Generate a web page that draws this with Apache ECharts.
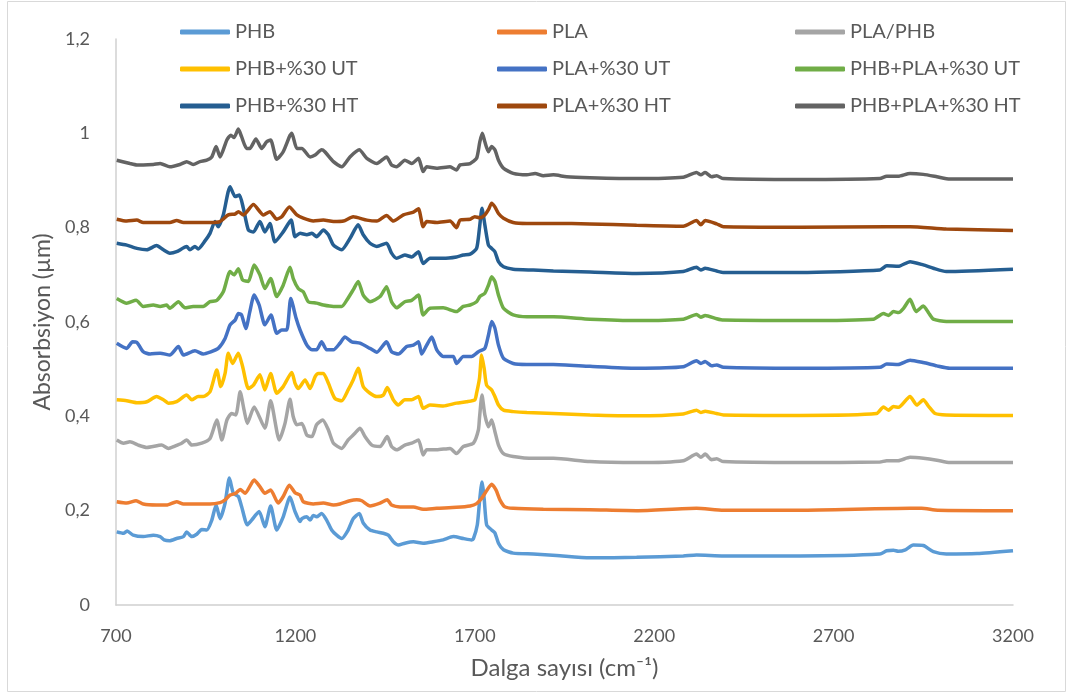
<!DOCTYPE html>
<html>
<head>
<meta charset="utf-8">
<script src="https://cdn.jsdelivr.net/npm/echarts@6/dist/echarts.min.js"></script>
<style>
html,body{margin:0;padding:0;background:#fff;}
#chart{width:1070px;height:695px;}
</style>
</head>
<body>
<div id="chart"></div>
<script>
// Series names
const seriesNames = ['PHB','PLA','PLA/PHB','PHB+%30 UT','PLA+%30 UT','PHB+PLA+%30 UT','PHB+%30 HT','PLA+%30 HT','PHB+PLA+%30 HT'];

// Wavenumber (cm-1), absorbance pairs
const phb = [[702,0.155],[721,0.152],[731,0.157],[748,0.148],[776,0.145],[804,0.148],[823,0.145],[834,0.138],[849,0.136],[869,0.141],[888,0.145],[897,0.155],[911,0.145],[925,0.150],[939,0.160],[953,0.159],[967,0.180],[979,0.212],[990,0.183],[1004,0.216],[1016,0.269],[1027,0.237],[1041,0.230],[1050,0.209],[1066,0.170],[1078,0.180],[1099,0.198],[1115,0.166],[1131,0.210],[1148,0.159],[1166,0.187],[1185,0.229],[1199,0.198],[1213,0.177],[1218,0.183],[1232,0.187],[1241,0.180],[1250,0.190],[1259,0.187],[1273,0.194],[1287,0.180],[1301,0.159],[1315,0.148],[1329,0.141],[1347,0.159],[1361,0.183],[1378,0.194],[1389,0.174],[1408,0.159],[1427,0.155],[1445,0.152],[1459,0.148],[1473,0.134],[1487,0.127],[1505,0.131],[1529,0.134],[1556,0.131],[1584,0.134],[1612,0.138],[1640,0.145],[1668,0.141],[1691,0.138],[1696,0.140],[1707,0.170],[1714,0.226],[1720,0.261],[1726,0.226],[1733,0.170],[1747,0.159],[1756,0.153],[1766,0.131],[1780,0.117],[1807,0.110],[1863,0.108],[1928,0.105],[2021,0.100],[2151,0.101],[2281,0.104],[2318,0.106],[2393,0.104],[2606,0.104],[2829,0.108],[2848,0.115],[2867,0.116],[2880,0.114],[2900,0.117],[2922,0.127],[2950,0.126],[2978,0.113],[3014,0.108],[3100,0.109],[3200,0.115]];

const pla = [[702,0.219],[730,0.216],[756,0.221],[776,0.214],[813,0.212],[841,0.212],[869,0.219],[888,0.214],[934,0.214],[962,0.214],[990,0.217],[1004,0.223],[1018,0.233],[1034,0.237],[1046,0.245],[1060,0.237],[1085,0.265],[1101,0.251],[1115,0.237],[1131,0.244],[1152,0.216],[1166,0.230],[1183,0.254],[1199,0.238],[1213,0.233],[1222,0.219],[1250,0.214],[1278,0.216],[1306,0.212],[1324,0.214],[1352,0.221],[1371,0.223],[1385,0.221],[1408,0.210],[1436,0.216],[1456,0.223],[1468,0.212],[1492,0.208],[1529,0.208],[1556,0.203],[1594,0.205],[1649,0.207],[1687,0.210],[1705,0.215],[1719,0.226],[1731,0.240],[1747,0.256],[1759,0.244],[1770,0.223],[1784,0.208],[1807,0.205],[1891,0.203],[2021,0.202],[2151,0.200],[2318,0.205],[2393,0.201],[2606,0.201],[2913,0.205],[2945,0.205],[2990,0.201],[3200,0.200]];

const plaPhb = [[702,0.350],[721,0.343],[739,0.346],[762,0.339],[786,0.334],[827,0.339],[846,0.332],[864,0.337],[883,0.343],[897,0.350],[911,0.339],[939,0.343],[962,0.353],[981,0.392],[995,0.350],[1009,0.392],[1022,0.406],[1034,0.403],[1046,0.452],[1057,0.413],[1066,0.385],[1085,0.420],[1115,0.375],[1131,0.433],[1155,0.350],[1171,0.385],[1185,0.436],[1194,0.399],[1204,0.382],[1218,0.385],[1232,0.360],[1246,0.357],[1259,0.382],[1276,0.392],[1292,0.371],[1306,0.343],[1329,0.332],[1347,0.350],[1366,0.364],[1380,0.375],[1394,0.357],[1413,0.339],[1436,0.336],[1456,0.357],[1468,0.336],[1482,0.329],[1505,0.339],[1524,0.343],[1543,0.350],[1556,0.318],[1566,0.329],[1594,0.329],[1631,0.332],[1649,0.321],[1668,0.336],[1696,0.343],[1710,0.371],[1713,0.396],[1720,0.445],[1728,0.403],[1738,0.378],[1747,0.392],[1756,0.368],[1766,0.339],[1780,0.321],[1807,0.315],[1863,0.311],[1919,0.311],[2021,0.304],[2151,0.302],[2281,0.306],[2318,0.320],[2330,0.313],[2342,0.320],[2360,0.308],[2374,0.310],[2393,0.304],[2606,0.302],[2829,0.303],[2848,0.306],[2880,0.306],[2913,0.313],[2950,0.311],[2988,0.307],[3024,0.302],[3200,0.302]];

const phbUt = [[702,0.435],[730,0.433],[758,0.429],[786,0.431],[813,0.442],[832,0.435],[846,0.428],[869,0.431],[897,0.445],[911,0.435],[929,0.442],[943,0.442],[962,0.452],[981,0.498],[992,0.463],[1004,0.491],[1013,0.534],[1025,0.512],[1041,0.534],[1053,0.505],[1069,0.459],[1083,0.466],[1101,0.488],[1115,0.456],[1131,0.491],[1148,0.449],[1166,0.463],[1190,0.493],[1199,0.470],[1208,0.459],[1227,0.477],[1241,0.459],[1255,0.484],[1264,0.491],[1278,0.491],[1292,0.470],[1310,0.438],[1329,0.433],[1347,0.456],[1361,0.477],[1375,0.502],[1389,0.463],[1408,0.449],[1427,0.442],[1445,0.445],[1456,0.461],[1473,0.435],[1487,0.424],[1505,0.435],[1524,0.435],[1543,0.442],[1556,0.417],[1575,0.424],[1612,0.422],[1649,0.428],[1677,0.431],[1700,0.435],[1705,0.449],[1713,0.480],[1719,0.530],[1726,0.502],[1733,0.466],[1747,0.456],[1756,0.442],[1766,0.424],[1780,0.413],[1807,0.410],[1845,0.408],[1919,0.406],[2021,0.403],[2151,0.401],[2281,0.405],[2318,0.413],[2330,0.408],[2342,0.411],[2374,0.406],[2393,0.403],[2606,0.402],[2820,0.406],[2839,0.420],[2853,0.413],[2867,0.421],[2881,0.419],[2913,0.442],[2932,0.424],[2950,0.435],[2966,0.420],[2983,0.406],[3014,0.403],[3200,0.402]];

const plaUt = [[702,0.555],[730,0.544],[746,0.558],[758,0.557],[776,0.537],[795,0.532],[823,0.534],[850,0.530],[874,0.548],[888,0.530],[920,0.539],[943,0.532],[962,0.536],[985,0.544],[1004,0.565],[1018,0.594],[1032,0.604],[1041,0.618],[1050,0.615],[1062,0.586],[1073,0.622],[1085,0.657],[1099,0.636],[1115,0.594],[1132,0.615],[1148,0.576],[1162,0.583],[1176,0.583],[1187,0.650],[1202,0.608],[1213,0.583],[1232,0.551],[1246,0.541],[1259,0.541],[1273,0.558],[1287,0.541],[1306,0.541],[1324,0.555],[1338,0.568],[1357,0.558],[1380,0.555],[1408,0.544],[1427,0.536],[1454,0.558],[1468,0.537],[1487,0.532],[1510,0.548],[1529,0.551],[1543,0.558],[1552,0.532],[1566,0.551],[1580,0.568],[1594,0.541],[1612,0.527],[1640,0.527],[1649,0.512],[1668,0.527],[1691,0.527],[1710,0.537],[1728,0.544],[1738,0.572],[1747,0.601],[1756,0.587],[1766,0.551],[1780,0.523],[1807,0.512],[1845,0.510],[1919,0.510],[2021,0.506],[2151,0.502],[2281,0.505],[2318,0.518],[2330,0.512],[2342,0.516],[2360,0.507],[2374,0.509],[2393,0.504],[2606,0.502],[2829,0.504],[2848,0.511],[2880,0.510],[2913,0.519],[2950,0.514],[2988,0.507],[3024,0.502],[3200,0.502]];

const phbPlaUt = [[702,0.650],[730,0.640],[756,0.646],[776,0.633],[804,0.636],[823,0.633],[841,0.636],[850,0.629],[874,0.643],[892,0.630],[915,0.633],[943,0.633],[962,0.643],[981,0.646],[999,0.664],[1018,0.707],[1029,0.700],[1041,0.713],[1053,0.689],[1069,0.686],[1085,0.721],[1101,0.700],[1115,0.671],[1131,0.692],[1148,0.654],[1166,0.678],[1185,0.716],[1194,0.692],[1208,0.671],[1222,0.664],[1236,0.643],[1259,0.640],[1278,0.636],[1306,0.633],[1329,0.633],[1343,0.646],[1361,0.668],[1375,0.686],[1389,0.657],[1408,0.643],[1436,0.654],[1454,0.675],[1468,0.643],[1482,0.630],[1505,0.643],[1524,0.646],[1543,0.657],[1556,0.615],[1575,0.629],[1612,0.630],[1649,0.622],[1668,0.633],[1687,0.636],[1705,0.643],[1714,0.654],[1728,0.661],[1738,0.678],[1747,0.696],[1756,0.686],[1766,0.657],[1780,0.629],[1807,0.615],[1845,0.611],[1919,0.611],[2021,0.606],[2151,0.603],[2281,0.606],[2318,0.616],[2330,0.610],[2342,0.614],[2374,0.607],[2393,0.604],[2606,0.603],[2811,0.606],[2839,0.618],[2853,0.614],[2867,0.622],[2881,0.620],[2895,0.629],[2913,0.648],[2930,0.622],[2950,0.634],[2966,0.618],[2978,0.606],[3014,0.601],[3200,0.601]];

const phbHt = [[702,0.767],[730,0.763],[758,0.756],[786,0.753],[813,0.762],[832,0.753],[850,0.746],[869,0.749],[897,0.760],[906,0.753],[920,0.760],[929,0.755],[948,0.772],[962,0.788],[976,0.813],[985,0.802],[999,0.827],[1018,0.887],[1032,0.866],[1044,0.869],[1055,0.841],[1069,0.795],[1083,0.791],[1101,0.813],[1115,0.791],[1129,0.809],[1143,0.770],[1166,0.791],[1188,0.816],[1199,0.781],[1213,0.788],[1232,0.785],[1246,0.788],[1259,0.781],[1278,0.795],[1292,0.785],[1306,0.763],[1329,0.753],[1352,0.777],[1375,0.806],[1389,0.785],[1408,0.767],[1427,0.760],[1454,0.767],[1468,0.746],[1482,0.735],[1505,0.742],[1524,0.738],[1543,0.749],[1556,0.724],[1575,0.735],[1612,0.735],[1649,0.738],[1668,0.742],[1687,0.744],[1705,0.756],[1713,0.799],[1720,0.841],[1728,0.806],[1738,0.763],[1747,0.756],[1756,0.749],[1766,0.728],[1780,0.717],[1807,0.712],[1863,0.710],[1919,0.708],[2021,0.706],[2151,0.703],[2281,0.707],[2318,0.716],[2330,0.710],[2342,0.714],[2374,0.708],[2393,0.705],[2606,0.705],[2829,0.710],[2848,0.719],[2880,0.718],[2913,0.728],[2950,0.721],[2978,0.714],[3014,0.707],[3200,0.712]];

const plaHt = [[702,0.818],[730,0.814],[758,0.816],[776,0.811],[823,0.811],[850,0.811],[869,0.815],[888,0.811],[962,0.811],[990,0.813],[1013,0.827],[1032,0.829],[1041,0.834],[1055,0.827],[1083,0.849],[1111,0.827],[1129,0.834],[1148,0.818],[1162,0.823],[1183,0.844],[1204,0.827],[1222,0.820],[1250,0.814],[1278,0.816],[1306,0.813],[1334,0.814],[1361,0.823],[1399,0.816],[1427,0.814],[1454,0.826],[1473,0.814],[1501,0.827],[1529,0.833],[1543,0.840],[1556,0.802],[1566,0.813],[1594,0.811],[1631,0.814],[1649,0.800],[1659,0.816],[1687,0.818],[1700,0.823],[1714,0.821],[1728,0.827],[1738,0.838],[1747,0.852],[1756,0.844],[1766,0.830],[1780,0.820],[1807,0.811],[1845,0.809],[1919,0.809],[2021,0.808],[2151,0.805],[2281,0.803],[2318,0.815],[2330,0.806],[2342,0.815],[2374,0.808],[2393,0.802],[2606,0.801],[2848,0.802],[2913,0.802],[3014,0.797],[3200,0.794]];

const phbPlaHt = [[702,0.943],[739,0.936],[758,0.933],[776,0.933],[804,0.934],[823,0.936],[850,0.929],[878,0.934],[897,0.940],[915,0.934],[934,0.940],[953,0.943],[967,0.950],[979,0.972],[990,0.950],[1009,0.986],[1020,0.996],[1029,0.991],[1041,1.009],[1050,0.993],[1064,0.968],[1073,0.968],[1090,0.988],[1106,0.968],[1120,0.982],[1131,0.986],[1148,0.945],[1166,0.961],[1185,0.996],[1190,1.000],[1204,0.968],[1218,0.968],[1241,0.950],[1255,0.954],[1273,0.965],[1282,0.961],[1306,0.940],[1329,0.929],[1352,0.950],[1378,0.965],[1399,0.947],[1427,0.936],[1454,0.950],[1468,0.933],[1482,0.929],[1505,0.943],[1524,0.936],[1543,0.947],[1556,0.919],[1566,0.929],[1594,0.926],[1631,0.929],[1649,0.922],[1659,0.933],[1687,0.936],[1705,0.947],[1714,0.982],[1721,1.000],[1728,0.982],[1738,0.961],[1747,0.972],[1756,0.965],[1766,0.943],[1780,0.926],[1807,0.915],[1845,0.912],[1868,0.915],[1891,0.910],[1919,0.912],[1956,0.908],[2021,0.906],[2151,0.904],[2281,0.907],[2318,0.917],[2330,0.912],[2342,0.917],[2360,0.908],[2374,0.910],[2393,0.904],[2606,0.902],[2829,0.904],[2848,0.909],[2880,0.909],[2913,0.915],[2950,0.913],[2988,0.908],[3024,0.903],[3200,0.903]];

const seriesData = [phb, pla, plaPhb, phbUt, plaUt, phbPlaUt, phbHt, plaHt, phbPlaHt];
const colors = ['#5B9BD5','#ED7D31','#A5A5A5','#FFC000','#4472C4','#70AD47','#255E91','#9E480E','#636363'];

const xTicks = {min: 700, max: 3200, interval: 500};
const yTicks = {min: 0, max: 1.2, interval: 0.2};

const FONT = 'Lato';
const chart = echarts.init(document.getElementById('chart'), null, {renderer: 'canvas'});

function legendCol(names, left) {
  return {
    orient: 'vertical', left: left, top: 22, padding: 0,
    itemWidth: 50, itemHeight: 5, itemGap: 17, icon: 'roundRect',
    data: names,
    textStyle: {fontFamily: FONT, fontSize: 20, color: '#595959', lineHeight: 20}
  };
}

chart.setOption({
  animation: false,
  color: colors,
  graphic: [{type: 'rect', shape: {x: 7.5, y: 1.5, width: 1058, height: 690}, style: {fill: 'none', stroke: '#D9D9D9', lineWidth: 1}, silent: true}],
  legend: [
    legendCol(['PHB','PHB+%30 UT','PHB+%30 HT'], 180),
    legendCol(['PLA','PLA+%30 UT','PLA+%30 HT'], 497),
    legendCol(['PLA/PHB','PHB+PLA+%30 UT','PHB+PLA+%30 HT'], 795)
  ],
  grid: {left: 116, right: 57, top: 39, bottom: 90, containLabel: false},
  xAxis: {
    type: 'value', min: xTicks.min, max: xTicks.max, interval: xTicks.interval,
    name: 'Dalga sayısı (cm⁻¹)', nameLocation: 'middle', nameGap: 51,
    nameTextStyle: {fontFamily: FONT, fontSize: 24, color: '#595959'},
    axisLine: {show: true, lineStyle: {color: '#D0D0D0', width: 1.5}},
    axisTick: {show: false},
    splitLine: {show: false},
    axisLabel: {fontFamily: FONT, fontSize: 18, color: '#595959', margin: 22,
      formatter: v => String(v)}
  },
  yAxis: {
    type: 'value', min: yTicks.min, max: yTicks.max, interval: yTicks.interval,
    name: 'Absorbsiyon (µm)', nameLocation: 'middle', nameGap: 62,
    nameTextStyle: {fontFamily: FONT, fontSize: 23, color: '#595959'},
    axisLine: {show: true, lineStyle: {color: '#D0D0D0', width: 1.5}},
    axisTick: {show: false},
    splitLine: {show: false},
    axisLabel: {fontFamily: FONT, fontSize: 18, color: '#595959', margin: 26,
      formatter: v => String(+v.toFixed(1)).replace('.', ',')}
  },
  series: seriesNames.map((n, i) => ({
    name: n, type: 'line', data: seriesData[i], showSymbol: false, symbol: 'none',
    smooth: 0.2, lineStyle: {width: 3.5, color: colors[i]}, itemStyle: {color: colors[i]}
  }))
});
</script>
</body>
</html>
